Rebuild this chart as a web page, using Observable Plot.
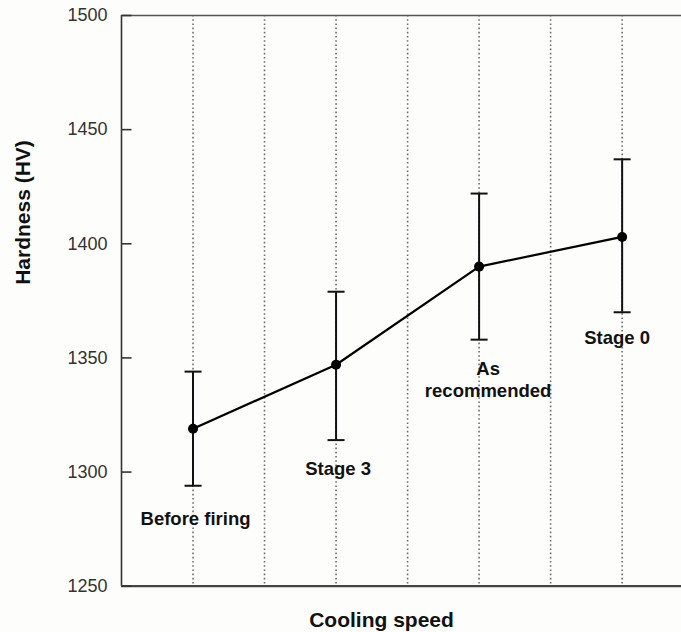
<!DOCTYPE html>
<html>
<head>
<meta charset="utf-8">
<script src="https://cdn.jsdelivr.net/npm/d3@7"></script>
<script src="https://cdn.jsdelivr.net/npm/@observablehq/plot@0.6"></script>
<style>
  html, body { margin: 0; padding: 0; background: #fdfdfb; }
  #chart { width: 681px; height: 632px; }
</style>
</head>
<body>
<div id="chart"></div>
<script>
// ---- data ----
const categories = ["Before firing", "Stage 3", "As recommended", "Stage 0"];
const labelTexts = ["Before firing", "Stage 3", "As\nrecommended", "Stage 0"];
const xPositions = [1, 3, 5, 7];
const hardness = [1319, 1347, 1390, 1403];
const errLow = [1294, 1314, 1358, 1370];
const errHigh = [1344, 1379, 1422, 1437];
const yTicks = [1250, 1300, 1350, 1400, 1450, 1500];
const gridX = [1, 2, 3, 4, 5, 6, 7];
const xLabel = "Cooling speed";
const yLabel = "Hardness (HV)";

const rows = categories.map((c, i) => ({
  category: c, label: labelTexts[i], x: xPositions[i],
  y: hardness[i], lo: errLow[i], hi: errHigh[i]
}));

// ---- styles ----
const labelOffsets = [ {dx: 2.5, dy: 32}, {dx: 2, dy: 28}, {dx: 9, dy: 39}, {dx: -5, dy: 25} ];
const capSymbol = {
  draw(ctx) { ctx.moveTo(-8.5, 0); ctx.lineTo(8.5, 0); }
};
const inwardTick = {
  draw(ctx) { ctx.moveTo(0, 0); ctx.lineTo(10, 0); }
};
const font = "'Liberation Sans', Arial, Helvetica, sans-serif";

const chart = Plot.plot({
  width: 681,
  height: 632,
  marginLeft: 121,
  marginRight: 0,
  marginTop: 15,
  marginBottom: 46.3,
  style: { background: "#fdfdfb", fontFamily: font },
  x: { domain: [0, 7.83], axis: null },
  y: { domain: [1250, 1500], axis: null },
  marks: [
    // dotted vertical grid
    Plot.ruleX(gridX, { stroke: "#6f6f6f", strokeWidth: 1.6, strokeDasharray: "1.6,2.6" }),
    // frame lines
    Plot.ruleX([0], { stroke: "#333", strokeWidth: 1.6 }),
    Plot.ruleY([1500], { stroke: "#555", strokeWidth: 1.6 }),
    Plot.ruleY([1250], { stroke: "#444", strokeWidth: 2.2 }),
    // y axis: inward ticks and labels
    Plot.dot(yTicks, { y: d => d, frameAnchor: "left", symbol: inwardTick, stroke: "#333", strokeWidth: 1.6 }),
    Plot.axisY(yTicks, { tickSize: 0, tickPadding: 14, tickFormat: d3.format("d"), fontSize: 18, fill: "#333", label: null }),
    // error bars
    Plot.ruleX(rows, { x: "x", y1: "lo", y2: "hi", stroke: "#111", strokeWidth: 2 }),
    Plot.dot(rows, { x: "x", y: "lo", symbol: capSymbol, stroke: "#111", strokeWidth: 2 }),
    Plot.dot(rows, { x: "x", y: "hi", symbol: capSymbol, stroke: "#111", strokeWidth: 2 }),
    // line and points
    Plot.line(rows, { x: "x", y: "y", stroke: "#000", strokeWidth: 2.2 }),
    Plot.dot(rows, { x: "x", y: "y", r: 5, fill: "#000", stroke: "none" }),
    // point labels
    ...rows.map((d, i) => Plot.text([d], {
      x: "x", y: "lo", text: "label",
      dx: labelOffsets[i].dx, dy: labelOffsets[i].dy,
      fontSize: 18.5, fontWeight: "bold", fill: "#111",
      textAnchor: "middle", lineAnchor: "middle", lineHeight: 1.19
    })),
    // axis titles
    Plot.text([xLabel], {
      frameAnchor: "bottom", dx: -20, dy: 34, lineAnchor: "middle",
      fontSize: 21, fontWeight: "bold", fill: "#111"
    }),
    Plot.text([yLabel], {
      frameAnchor: "left", rotate: -90, dx: -98, dy: -16, lineAnchor: "middle",
      fontSize: 21, fontWeight: "bold", fill: "#111"
    })
  ]
});

document.getElementById("chart").appendChild(chart);
</script>
</body>
</html>
